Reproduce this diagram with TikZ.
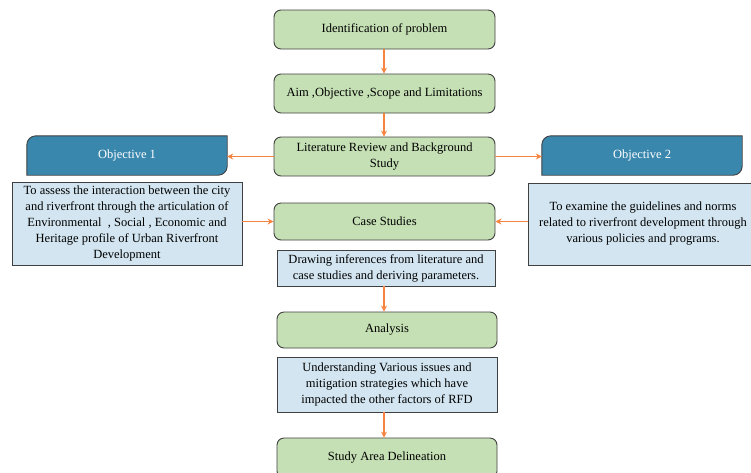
\documentclass[tikz,border=0pt]{standalone}
\usepackage{fontspec}
\setmainfont{Liberation Serif}
\usetikzlibrary{arrows.meta,calc}
\definecolor{gfill}{HTML}{C5E0B4}
\definecolor{bdark}{HTML}{3A87AE}
\definecolor{blight}{HTML}{D2E5F0}
\definecolor{oarrow}{HTML}{F4843F}
\definecolor{edge}{HTML}{404040}
\tikzset{
  gbox/.style={draw=edge, fill=gfill, rounded corners=7pt, line width=0.9pt, align=center,
    inner sep=2pt, font=\fontsize{12.5}{16}\selectfont},
  lbox/.style={draw=edge, fill=blight, line width=0.9pt, align=center,
    inner sep=2pt, font=\fontsize{12.5}{16}\selectfont},
  objbox/.style={align=center, inner sep=0pt, text=white,
    minimum width=200pt, minimum height=39pt, font=\fontsize{12.5}{15}\selectfont},
  objline/.style={draw=edge, line width=0.9pt, fill=bdark},
  flow/.style={draw=oarrow, line width=1.3pt, -{Stealth[length=6pt,width=6pt]}},
}
\begin{document}
\begin{tikzpicture}[x=1pt,y=1pt]
\clip (0,0) rectangle (751,-472);
\path[use as bounding box] (0,0) rectangle (751,-472);

\node[gbox, minimum width=221pt, minimum height=39pt] (p1) at (384.5,-29.5) {Identification\ of problem};
\node[gbox, minimum width=221pt, minimum height=39pt] (p2) at (384.5,-93.5) {Aim ,Objective ,Scope and Limitations};
\node[gbox, minimum width=221pt, minimum height=39pt] (p3) at (384.5,-156.5) {Literature Review\ and Background\\Study};

\node[objbox] (o1) at (127,-155.5) {};
\node[objbox] (o2) at (642,-155.5) {};
\path[objline] ([yshift=-9pt]o1.north west) arc[start angle=180,end angle=90,radius=9pt] -- (o1.north east) -- ([yshift=9pt]o1.south east) arc[start angle=0,end angle=-90,radius=9pt] -- (o1.south west) -- cycle;
\path[objline] ([yshift=-9pt]o2.north west) arc[start angle=180,end angle=90,radius=9pt] -- (o2.north east) -- ([yshift=9pt]o2.south east) arc[start angle=0,end angle=-90,radius=9pt] -- (o2.south west) -- cycle;
\node[text=white, font=\fontsize{12.5}{15}\selectfont] (o1t) at (o1) {Objective\ 1};
\node[text=white, font=\fontsize{12.5}{15}\selectfont] (o2t) at (o2) {Objective\ 2};

\node[lbox, minimum width=230pt, minimum height=83pt] (t1) at (127,-223.5)
  {To assess the interaction between the city\\and riverfront through the\ articulation of\\Environmental\ \ , Social , Economic and\\Heritage profile of Urban Riverfront\\Development};
\node[lbox, minimum width=230pt, minimum height=82pt] (t2) at (643,-224)
  {To examine the guidelines and norms\\related to riverfront development through\\various policies and programs.};

\node[gbox, minimum width=221pt, minimum height=37pt] (p4) at (384.5,-221.5) {Case Studies};
\node[lbox, minimum width=218pt, minimum height=36pt] (b1) at (386,-268)
  {Drawing inferences from literature and\\case studies and deriving parameters.};
\node[gbox, minimum width=220pt, minimum height=36pt] (p5) at (387,-330) {Analysis};
\node[lbox, minimum width=220pt, minimum height=55pt] (b2) at (387,-384.5)
  {Understanding Various issues and\\mitigation strategies which have\\impacted the other factors of RFD};
\node[gbox, minimum width=220pt, minimum height=40pt] (p6) at (387,-458) {Study Area Delineation};

\draw[flow] (p1.south -| 384,0) -- (p2.north -| 384,0);
\draw[flow] (p2.south -| 384,0) -- (p3.north -| 384,0);
\draw[flow] (p3.west) -- (o1.east |- p3.west);
\draw[flow] (p3.east) -- (o2.west |- p3.east);
\draw[flow] (t1.east |- p4.west) -- (p4.west);
\draw[flow] (t2.west |- p4.east) -- (p4.east);
\draw[flow] (b1.south -| 384,0) -- (p5.north -| 384,0);
\draw[flow] (b2.south -| 384,0) -- (p6.north -| 384,0);
\end{tikzpicture}
\end{document}
